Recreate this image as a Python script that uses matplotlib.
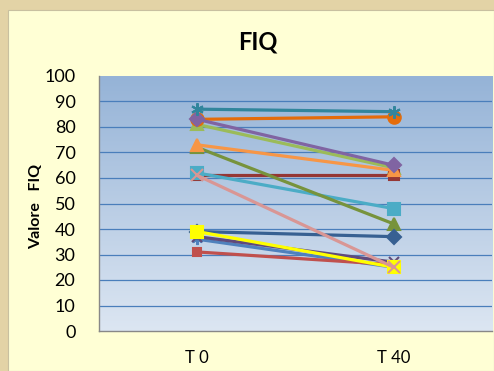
import numpy as np
import matplotlib
matplotlib.use("Agg")
import matplotlib.pyplot as plt
from matplotlib.patches import Rectangle
from matplotlib.colors import LinearSegmentedColormap

categories = ["T 0", "T 40"]

s_steel = [36, 25]
s_red = [31, 26]
s_green = [81, 64]
s_purple = [83, 65]
s_cyan = [62, 48]
s_orange = [73, 63]
s_darkblue = [39, 37]
s_darkred = [61, 61]
s_olive = [72, 42]
s_darkpurple = [37, 27]
s_teal = [87, 86]
s_darkorange = [83, 84]
s_yellow = [39, 25]
s_pink = [61, 25]

yticks = [0, 10, 20, 30, 40, 50, 60, 70, 80, 90, 100]

ASTER = (6, 2, 0)
series = [
    (s_steel, "#4F81BD", ASTER, 8),
    (s_red, "#C0504D", "s", 6),
    (s_green, "#9BBB59", "^", 8),
    (s_darkred, "#953735", "s", 7),
    (s_cyan, "#4BACC6", "s", 8),
    (s_olive, "#77933C", "^", 9),
    (s_orange, "#F79646", "^", 9),
    (s_darkblue, "#376092", "D", 7),
    (s_darkpurple, "#604A7B", "x", 7),
    (s_darkorange, "#E46C0A", "o", 9),
    (s_purple, "#8064A2", "D", 7),
    (s_teal, "#31859C", ASTER, 9),
    (s_yellow, "#FFFF00", "s", 9),
    (s_pink, "#D99694", "x", 8),
]

fig = plt.figure(figsize=(4.94, 3.71), dpi=100)
fig.patch.set_facecolor("#E3D3A6")
fig.add_artist(Rectangle((8 / 494, 0), 1 - 8 / 494, 1 - 10 / 371,
                         transform=fig.transFigure, facecolor="#FFFFD5",
                         edgecolor="#C8C0A0", lw=0.8, zorder=0))

left, right, top, bottom = 99, 492, 76, 331
ax = fig.add_axes([left / 494, 1 - bottom / 371, (right - left) / 494, (bottom - top) / 371])
ax.set_facecolor("none")

cmap = LinearSegmentedColormap.from_list("g", ["#DCE6F2", "#95B3D7"])
grad = np.linspace(0, 1, 256).reshape(-1, 1)
ax.imshow(grad, cmap=cmap, origin="lower", aspect="auto",
          extent=[0, 1, 0, 1], transform=ax.transAxes, zorder=0)

for v in yticks[1:-1]:
    ax.axhline(v, color="#4A7EBB", lw=0.9, zorder=1)

x = np.arange(len(categories))
for vals, col, mk, ms in series:
    ax.plot(x, vals, color=col, lw=2.3, marker=mk, markersize=ms,
            markeredgecolor=col, markerfacecolor=col, markeredgewidth=1.5,
            zorder=3, solid_capstyle="round")

ax.set_xlim(-0.5, 1.5)
ax.set_ylim(0, 100)
ax.set_yticks(yticks)
ax.set_xticks(x)
ax.set_xticklabels(categories, fontsize=12, fontfamily="Lato")
ax.set_yticklabels([str(v) for v in yticks], fontsize=13, fontfamily="Lato")
ax.tick_params(axis="y", length=0, pad=17)
ax.tick_params(axis="x", length=0, pad=14)
for s in ["top", "right"]:
    ax.spines[s].set_visible(False)
ax.spines["bottom"].set_color("#888888")
ax.spines["bottom"].set_linewidth(1.0)
ax.spines["left"].set_color("#888888")
ax.spines["left"].set_linewidth(1.0)

fig.text(258 / 494, 1 - 42 / 371, "FIQ", ha="center", va="center",
         fontsize=17, fontweight="bold", fontfamily="Lato")
fig.text(36 / 494, 1 - 206 / 371, "Valore   FIQ", ha="center", va="center",
         rotation=90, fontsize=11.5, fontweight="bold", fontfamily="Lato")

fig.savefig("out.png", dpi=100, facecolor=fig.get_facecolor())
